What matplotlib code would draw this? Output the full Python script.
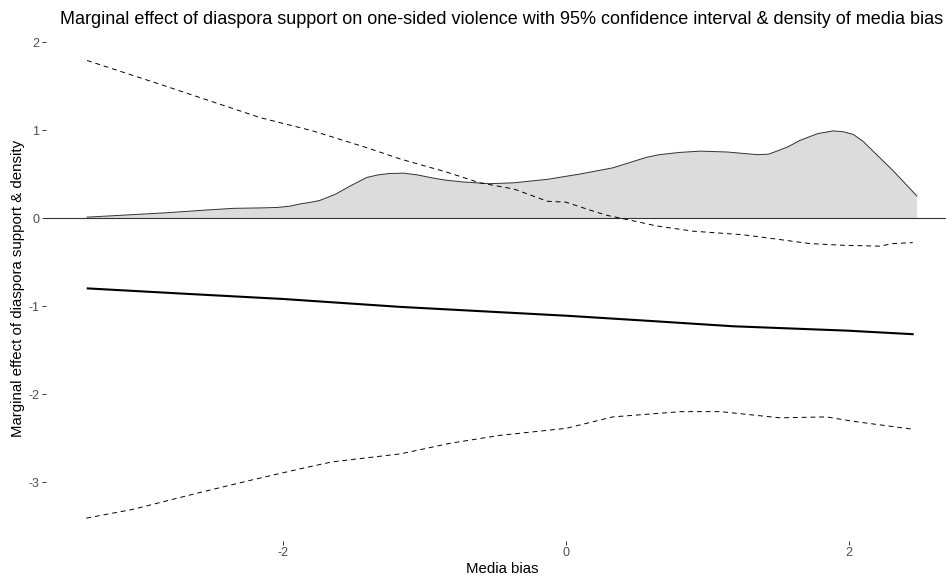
import numpy as np
import matplotlib
matplotlib.use("Agg")
import matplotlib.pyplot as plt

# values
# kernel density of media bias (grey area)
dens_x = [-3.385, -3.10, -2.82, -2.55, -2.35, -2.15, -2.04, -1.95, -1.88, -1.80, -1.74,
          -1.63, -1.53, -1.41, -1.33, -1.25, -1.15, -1.05, -0.96, -0.85, -0.73, -0.54,
          -0.37, -0.13, 0.10, 0.33, 0.57, 0.66, 0.80, 0.95, 1.14, 1.35, 1.43, 1.49, 1.57,
          1.65, 1.78, 1.89, 1.96, 2.03, 2.10, 2.17, 2.31, 2.48]
dens_y = [0.01, 0.035, 0.06, 0.09, 0.11, 0.115, 0.12, 0.135, 0.16, 0.18, 0.20,
          0.27, 0.36, 0.46, 0.49, 0.505, 0.51, 0.49, 0.46, 0.43, 0.41, 0.39,
          0.40, 0.44, 0.50, 0.57, 0.69, 0.72, 0.745, 0.76, 0.75, 0.72, 0.725, 0.76, 0.81,
          0.88, 0.96, 0.99, 0.98, 0.95, 0.87, 0.76, 0.54, 0.25]

# marginal effect
me_x = [-3.38, -2.70, -2.00, -1.17, -0.47, 0.00, 0.60, 1.18, 1.99, 2.45]
me_y = [-0.80, -0.86, -0.92, -1.01, -1.07, -1.11, -1.17, -1.23, -1.28, -1.32]

# upper 95% bound
up_x = [-3.385, -2.87, -2.59, -2.16, -1.79, -1.41, -1.17, -0.84, -0.61, -0.37, -0.13,
        0.00, 0.15, 0.29, 0.44, 0.64, 0.90, 1.25, 1.49, 1.72, 1.96, 2.22, 2.31, 2.45]
up_y = [1.79, 1.52, 1.37, 1.14, 0.99, 0.80, 0.67, 0.52, 0.40, 0.33, 0.19,
        0.18, 0.10, 0.03, -0.02, -0.09, -0.15, -0.19, -0.24, -0.29, -0.31, -0.32, -0.29, -0.28]

# lower 95% bound
lo_x = [-3.39, -3.06, -2.59, -2.23, -1.88, -1.65, -1.17, -0.82, -0.47, 0.00,
        0.33, 0.81, 1.09, 1.51, 1.84, 2.03, 2.45]
lo_y = [-3.41, -3.31, -3.12, -2.98, -2.85, -2.77, -2.68, -2.56, -2.47, -2.39,
        -2.26, -2.20, -2.20, -2.27, -2.26, -2.31, -2.40]

xticks = [-2, 0, 2]
yticks = [-3, -2, -1, 0, 1, 2]

W, H = 946, 578
fig = plt.figure(figsize=(W / 100, H / 100), dpi=100)
plt.rcParams['font.family'] = ['Liberation Sans', 'DejaVu Sans']

# panel in pixels (it runs a bit past the right edge, as in the reference)
left, right, top, bottom = 45.6, 958.4, 37.6, 541.0
ax = fig.add_axes([left / W, 1 - bottom / H, (right - left) / W, (bottom - top) / H])

ax.fill_between(dens_x, 0, dens_y, facecolor='#DCDCDC', edgecolor='none', zorder=1)
ax.plot(dens_x, dens_y, color='#333333', lw=0.7, zorder=2)
ax.axhline(0, color='#333333', lw=0.8, zorder=3)
ax.plot(up_x, up_y, color='black', lw=0.7, dashes=(5, 4), zorder=4)
ax.plot(lo_x, lo_y, color='black', lw=0.7, dashes=(5, 4), zorder=4)
ax.plot(me_x, me_y, color='black', lw=1.5, zorder=5)

ax.set_xlim(-3.678, 2.773)
ax.set_ylim(-3.67, 2.05)
ax.set_xticks(xticks)
ax.set_yticks(yticks)
ax.set_xticklabels([str(t) for t in xticks])
ax.set_yticklabels([str(t) for t in yticks])
ax.tick_params(length=2.6, width=0.7, color='#333333', labelcolor='#4D4D4D',
               labelsize=9, pad=1.8)
for s in ax.spines.values():
    s.set_visible(False)
ax.set_facecolor('none')

fig.text(502 / W, 1 - 20 / H,
         'Marginal effect of diaspora support on one-sided violence with 95% confidence interval & density of media bias',
         ha='center', va='center', fontsize=13, color='black')
fig.text(502 / W, 1 - 569 / H, 'Media bias', ha='center', va='center',
         fontsize=10.8, color='black')
fig.text(18 / W, 1 - 288 / H, 'Marginal effect of diaspora support & density',
         ha='center', va='center', rotation=90, fontsize=10.8, color='black')

fig.savefig('out.png', dpi=100)
